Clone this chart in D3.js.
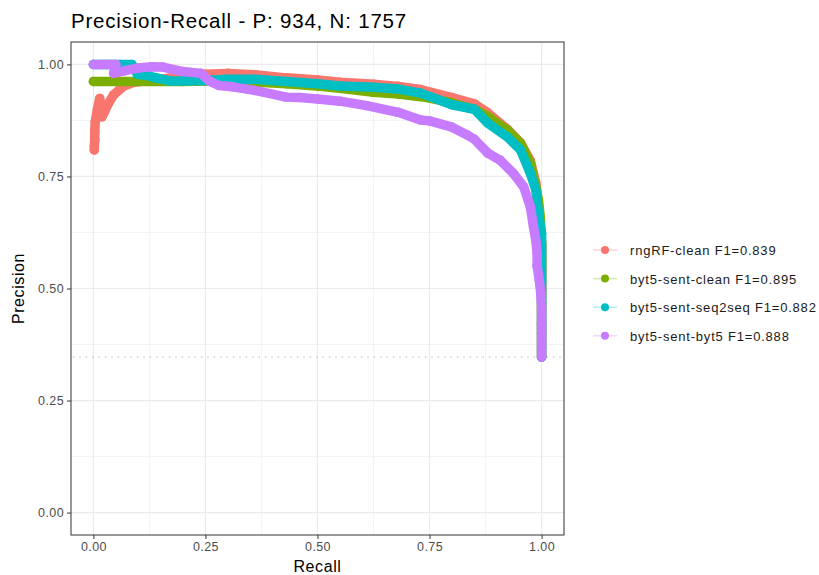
<!DOCTYPE html>
<html>
<head>
<meta charset="utf-8">
<script src="https://cdn.jsdelivr.net/npm/d3@7"></script>
<style>
  body { margin: 0; background: #fff; }
  text { font-family: "Liberation Sans", Arial, sans-serif; }
</style>
</head>
<body>
<div id="chart"></div>
<script>

//data: [recall, precision]
const rngRF = [[0.002,0.809],[0.002,0.816],[0.003,0.831],[0.003,0.850],[0.004,0.872],[0.009,0.900],[0.014,0.924],[0.019,0.883],[0.025,0.895],[0.033,0.912],[0.045,0.932],[0.068,0.952],[0.09,0.960],[0.12,0.964],[0.16,0.968],[0.2,0.974],[0.25,0.978],[0.3,0.980],[0.36,0.977],[0.43,0.970],[0.5,0.965],[0.55,0.960],[0.625,0.956],[0.68,0.951],[0.73,0.944],[0.8,0.926],[0.85,0.912],[0.88,0.892],[0.924,0.855],[0.953,0.825],[0.975,0.785],[0.987,0.736],[0.993,0.684],[0.997,0.640],[1.0,0.593],[1.0,0.563],[1.0,0.530],[1.0,0.500],[1.0,0.450],[1.0,0.400],[1.0,0.347]];
const byt5Clean = [[0.0,0.962],[0.05,0.962],[0.1,0.962],[0.15,0.962],[0.2,0.962],[0.25,0.963],[0.3,0.963],[0.36,0.961],[0.43,0.957],[0.5,0.952],[0.55,0.947],[0.625,0.938],[0.68,0.934],[0.745,0.926],[0.8,0.914],[0.85,0.900],[0.88,0.884],[0.924,0.853],[0.953,0.824],[0.975,0.779],[0.987,0.727],[0.993,0.697],[0.997,0.660],[1.0,0.600],[1.0,0.550],[1.0,0.490],[1.0,0.450],[1.0,0.400],[1.0,0.347]];
const byt5Seq2seq = [[0.0,1.0],[0.03,1.0],[0.06,1.0],[0.086,1.0],[0.098,0.978],[0.12,0.975],[0.14,0.970],[0.17,0.963],[0.2,0.963],[0.25,0.964],[0.3,0.967],[0.36,0.967],[0.43,0.962],[0.5,0.957],[0.55,0.952],[0.625,0.949],[0.68,0.945],[0.73,0.936],[0.8,0.910],[0.85,0.900],[0.88,0.869],[0.924,0.838],[0.953,0.809],[0.975,0.757],[0.987,0.720],[0.993,0.667],[1.0,0.623],[1.0,0.580],[1.0,0.530],[1.0,0.480],[1.0,0.467],[1.0,0.420],[1.0,0.347]];
const byt5Byt5 = [[0.0,1.0],[0.02,1.0],[0.04,1.0],[0.05,1.0],[0.045,0.980],[0.07,0.986],[0.1,0.992],[0.13,0.995],[0.155,0.994],[0.2,0.984],[0.24,0.980],[0.26,0.962],[0.28,0.953],[0.31,0.950],[0.36,0.942],[0.43,0.927],[0.46,0.926],[0.5,0.923],[0.55,0.918],[0.61,0.908],[0.68,0.893],[0.73,0.876],[0.75,0.874],[0.8,0.860],[0.835,0.842],[0.85,0.833],[0.88,0.802],[0.908,0.786],[0.937,0.757],[0.96,0.727],[0.975,0.682],[0.982,0.637],[0.987,0.608],[0.99,0.579],[0.99,0.550],[0.995,0.518],[0.998,0.490],[1.0,0.459],[1.0,0.420],[1.0,0.380],[1.0,0.347]];

const seriesNames = ["rngRF-clean", "byt5-sent-clean", "byt5-sent-seq2seq", "byt5-sent-byt5"];
const f1Scores = ["0.839", "0.895", "0.882", "0.888"];
const baseRate = 934 / (934 + 1757);
const tickValues = [0, 0.25, 0.5, 0.75, 1];
const minorValues = [0.125, 0.375, 0.625, 0.875];
const allSeries = [rngRF, byt5Clean, byt5Seq2seq, byt5Byt5];

//SVG
const width = 819;
const height = 575;
const panel = {l: 71, r: 564, t: 42, b: 535};
const svg = d3.select("#chart")
    .append("svg")
    .attr("width", width)
    .attr("height", height);

const xScale = d3.scaleLinear()
    .domain([-0.05, 1.05])
    .range([panel.l, panel.r]);
const yScale = d3.scaleLinear()
    .domain([-0.05, 1.05])
    .range([panel.b, panel.t]);

const colorScale = d3.scaleOrdinal()
    .domain(seriesNames)
    .range(["#F8766D", "#7CAE00", "#00BFC4", "#C77CFF"]);

//grid
const grid = svg.append("g");
minorValues.forEach(v => {
    grid.append("line")
        .attr("x1", xScale(v)).attr("x2", xScale(v))
        .attr("y1", panel.t).attr("y2", panel.b)
        .attr("stroke", "#EBEBEB").attr("stroke-width", 0.6);
    grid.append("line")
        .attr("x1", panel.l).attr("x2", panel.r)
        .attr("y1", yScale(v)).attr("y2", yScale(v))
        .attr("stroke", "#EBEBEB").attr("stroke-width", 0.6);
});
tickValues.forEach(v => {
    grid.append("line")
        .attr("x1", xScale(v)).attr("x2", xScale(v))
        .attr("y1", panel.t).attr("y2", panel.b)
        .attr("stroke", "#EBEBEB").attr("stroke-width", 1.2);
    grid.append("line")
        .attr("x1", panel.l).attr("x2", panel.r)
        .attr("y1", yScale(v)).attr("y2", yScale(v))
        .attr("stroke", "#EBEBEB").attr("stroke-width", 1.2);
});

//base rate line
svg.append("line")
    .attr("x1", panel.l + 2).attr("x2", panel.r)
    .attr("y1", yScale(baseRate)).attr("y2", yScale(baseRate))
    .attr("stroke", "#BDBDBD")
    .attr("stroke-width", 1.2)
    .attr("stroke-dasharray", "1.2,5.2");

const makeLine = d3.line()
    .curve(d3.curveLinear)
    .x(d => xScale(d[0]))
    .y(d => yScale(d[1]));

//thin lines first
allSeries.forEach((s, i) => {
    svg.append("path")
        .attr("fill", "none")
        .attr("stroke", colorScale(seriesNames[i]))
        .attr("stroke-opacity", 0.3)
        .attr("stroke-width", 1)
        .attr("d", makeLine(s));
});

//points (dense, so they form a band)
allSeries.forEach((s, i) => {
    const g = svg.append("g");
    g.append("path")
        .attr("fill", "none")
        .attr("stroke", colorScale(seriesNames[i]))
        .attr("stroke-width", 9.5)
        .attr("stroke-linecap", "round")
        .attr("stroke-linejoin", "round")
        .attr("d", makeLine(s));
    g.selectAll("circle")
        .data(s)
        .join("circle")
        .attr("cx", d => xScale(d[0]))
        .attr("cy", d => yScale(d[1]))
        .attr("r", 4.75)
        .attr("fill", colorScale(seriesNames[i]));
});

//panel border
svg.append("rect")
    .attr("x", panel.l).attr("y", panel.t)
    .attr("width", panel.r - panel.l)
    .attr("height", panel.b - panel.t)
    .attr("fill", "none")
    .attr("stroke", "#333333")
    .attr("stroke-width", 1);

//Xaxis
const x_axis = d3.axisBottom(xScale)
    .tickValues(tickValues)
    .tickFormat(d3.format(".2f"))
    .tickSize(4)
    .tickPadding(3);
const xg = svg.append("g")
    .attr("transform", `translate(0, ${panel.b})`)
    .call(x_axis);
xg.select(".domain").remove();
xg.selectAll(".tick line").attr("stroke", "#333333");
xg.selectAll(".tick text")
    .attr("fill", "#4D4D4D")
    .style("font-size", "12.5px")
    .style("letter-spacing", "0.4px")
    .style("font-family", "Liberation Sans, Arial, sans-serif");

//Yaxis
const y_axis = d3.axisLeft(yScale)
    .tickValues(tickValues)
    .tickFormat(d3.format(".2f"))
    .tickSize(4)
    .tickPadding(3);
const yg = svg.append("g")
    .attr("transform", `translate(${panel.l}, 0)`)
    .call(y_axis);
yg.select(".domain").remove();
yg.selectAll(".tick line").attr("stroke", "#333333");
yg.selectAll(".tick text")
    .attr("fill", "#4D4D4D")
    .style("font-size", "12.5px")
    .style("letter-spacing", "0.4px")
    .style("font-family", "Liberation Sans, Arial, sans-serif");

svg.append("text")
    .attr("x", (panel.l + panel.r) / 2)
    .attr("y", 572)
    .attr("text-anchor", "middle")
    .attr("font-size", "16px")
    .attr("letter-spacing", "0.6px")
    .text("Recall");
svg.append("text")
    .attr("transform", "rotate(-90)")
    .attr("x", -(panel.t + panel.b) / 2)
    .attr("y", 24)
    .attr("text-anchor", "middle")
    .attr("font-size", "16px")
    .attr("letter-spacing", "0.6px")
    .text("Precision");

//title
svg.append("text")
    .attr("x", panel.l)
    .attr("y", 28)
    .attr("font-size", "20.5px")
    .attr("letter-spacing", "0.8px")
    .text("Precision-Recall - P: 934, N: 1757");

//legend
const legend = svg.append("g")
    .attr("transform", "translate(593, 250)");
seriesNames.forEach((name, i) => {
    const row = legend.append("g")
        .attr("transform", `translate(0, ${i * 28.6})`);
    row.append("line")
        .attr("x1", 0).attr("x2", 24)
        .attr("y1", 0).attr("y2", 0)
        .attr("stroke", colorScale(name))
        .attr("stroke-opacity", 0.3)
        .attr("stroke-width", 1.5);
    row.append("circle")
        .attr("cx", 12).attr("cy", 0)
        .attr("r", 4)
        .attr("fill", colorScale(name));
    row.append("text")
        .attr("x", 37)
        .attr("y", 5)
        .attr("font-size", "13px")
        .attr("letter-spacing", "0.8px")
        .attr("fill", "#1A1A1A")
        .text(`${name} F1=${f1Scores[i]}`);
});

</script>
</body>
</html>
